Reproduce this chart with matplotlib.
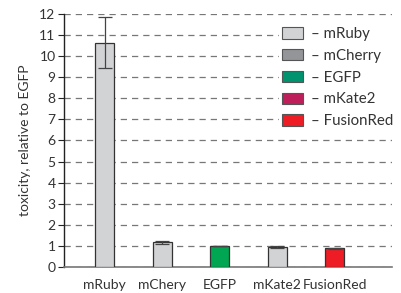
import matplotlib
matplotlib.use("Agg")
import matplotlib.pyplot as plt
from matplotlib.patches import Patch

# Data
proteins = ["mRuby", "mChery", "EGFP", "mKate2", "FusionRed"]
toxicity = [10.65, 1.17, 1.0, 0.93, 0.88]
errors = [1.2, 0.06, 0.0, 0.04, 0.04]
bar_colors = ["#d2d3d5", "#d2d3d5", "#00a651", "#d2d3d5", "#ee1c25"]

legend_names = ["mRuby", "mCherry", "EGFP", "mKate2", "FusionRed"]
legend_colors = ["#d2d3d5", "#939598", "#00936e", "#be1e5a", "#ee1c25"]

plt.rcParams["font.family"] = ["Lato", "DejaVu Sans"]
txt = "#333333"
fs = 10

fig = plt.figure(figsize=(4.02, 2.93), dpi=100)
ax = fig.add_axes([0.159, 0.089, 0.816, 0.863])

x = list(range(len(proteins)))
ax.bar(x, toxicity, width=0.33, color=bar_colors, edgecolor="#333333",
       linewidth=0.9, zorder=3)
ax.errorbar(x, toxicity, yerr=errors, fmt="none", ecolor="#444444",
            elinewidth=0.9, capsize=5, capthick=0.9, zorder=4)

ax.set_xlim(-0.71, 4.99)
ax.set_ylim(0, 12)
ax.set_yticks(range(0, 13))
ax.set_xticks(x)
ax.set_xticklabels(proteins)
ax.yaxis.grid(True, linestyle=(0, (5, 4)), color="#777777", linewidth=0.9)
ax.set_axisbelow(True)

for s in ["top", "right"]:
    ax.spines[s].set_visible(False)
ax.spines["left"].set_color("#222222")
ax.spines["bottom"].set_color("#777777")
ax.spines["left"].set_linewidth(1.0)
ax.spines["bottom"].set_linewidth(1.2)
ax.tick_params(axis="y", length=4, color="#222222", labelsize=fs,
               labelcolor=txt, pad=2)
ax.tick_params(axis="x", length=0, labelsize=fs, labelcolor=txt, pad=9)
ax.set_ylabel("toxicity, relative to EGFP", fontsize=fs, color=txt, labelpad=6)

handles = [Patch(facecolor=c, edgecolor="#555555", linewidth=0.8)
           for c in legend_colors]
labels = ["– " + n for n in legend_names]
leg = ax.legend(handles, labels, loc="upper right", bbox_to_anchor=(1.035, 0.99),
                frameon=True, fancybox=False, edgecolor="none", framealpha=1,
                fontsize=10.8, handlelength=1.4, handleheight=0.8,
                handletextpad=0.5, labelspacing=0.52, borderpad=0.2)
for t in leg.get_texts():
    t.set_color(txt)

fig.savefig("out.png", dpi=100)
